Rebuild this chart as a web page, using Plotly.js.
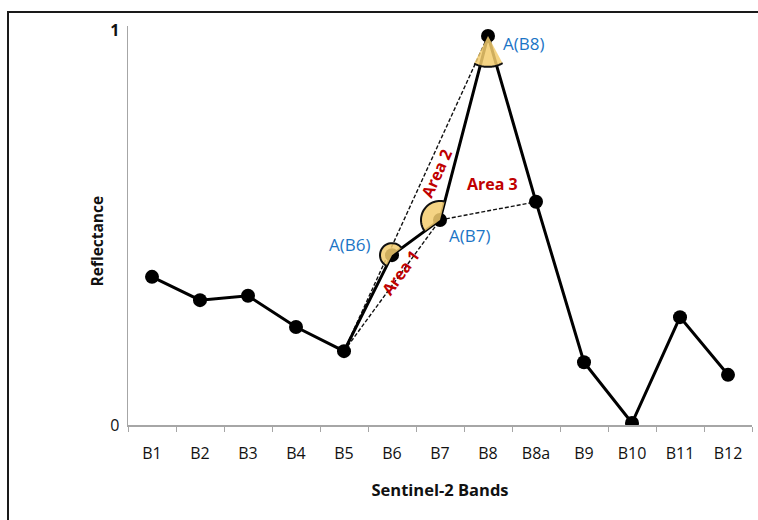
<!DOCTYPE html>
<html>
<head>
<meta charset="utf-8">
<script src="https://cdn.plot.ly/plotly-3.0.1.min.js"></script>
<style>
  html, body { margin: 0; padding: 0; background: #ffffff; }
  #wrap { position: relative; width: 758px; height: 520px; overflow: hidden; }
  #chart { position: absolute; left: 0; top: 0; width: 758px; height: 520px; }
  #frame { position: absolute; left: 7px; top: 11px; width: 900px; height: 700px;
           border-left: 2px solid #1a1a1a; border-top: 2px solid #1a1a1a; pointer-events: none; }
</style>
</head>
<body>
<div id="wrap">
  <div id="chart"></div>
  <div id="frame"></div>
</div>
<script>
// ---- data ----
const bands = ['B1','B2','B3','B4','B5','B6','B7','B8','B8a','B9','B10','B11','B12'];
const reflectance = [0.375, 0.316, 0.327, 0.248, 0.187, 0.430, 0.519, 0.985, 0.565, 0.159, 0.005, 0.273, 0.127];
const yTickVals = [0, 1];
const yTickText = ['0', '<b>1</b>'];
const dashedFrom = ['B5', 'B5', 'B7'];
const dashedTo   = ['B8', 'B7', 'B8a'];
const angleBands  = ['B6', 'B7', 'B8'];
const angleLabels = ['A(B6)', 'A(B7)', 'A(B8)'];
const areaLabels  = ['Area 1', 'Area 2', 'Area 3'];
const xTitle = 'Sentinel-2 Bands';
const yTitle = 'Reflectance';

// ---- layout geometry ----
const W = 758, H = 520;
const M = {l: 128, r: 6, t: 26, b: 95};
const yRange = [0, 1.01];
const plotW = W - M.l - M.r, plotH = H - M.t - M.b;
const xs = plotW / bands.length;            // px per category
const ys = plotH / (yRange[1] - yRange[0]); // px per unit

const idx = b => bands.indexOf(b);
const val = b => reflectance[idx(b)];

const traces = [];
// dashed construction lines
for (let k = 0; k < dashedFrom.length; k++) {
  traces.push({
    type: 'scatter', mode: 'lines',
    x: [dashedFrom[k], dashedTo[k]],
    y: [val(dashedFrom[k]), val(dashedTo[k])],
    line: {color: '#111', width: 1.4, dash: '4px,2px'},
    hoverinfo: 'skip', showlegend: false
  });
}
// main spectrum
traces.push({
  type: 'scatter', mode: 'lines+markers',
  x: bands, y: reflectance,
  line: {color: '#000', width: 3},
  marker: {color: '#000', size: 14},
  showlegend: false
});

// angle wedges
function ang(from, to) {
  const dx = (idx(to) - idx(from)) * xs;
  const dy = (val(to) - val(from)) * ys;
  return Math.atan2(dy, dx);
}
function arcPts(b, a0, a1, r) {
  if (a1 < a0) a1 += 2 * Math.PI;
  const pts = [];
  const n = 30;
  for (let k = 0; k <= n; k++) {
    const a = a0 + (a1 - a0) * k / n;
    pts.push([idx(b) + r * Math.cos(a) / xs, val(b) + r * Math.sin(a) / ys]);
  }
  return pts;
}
const shapes = [];
const wedgeSpec = [
  // band, start toward, end toward, radius px, padding deg
  {b: 'B6', s: 'B7', e: 'B5', r: 12, pad: 0},
  {b: 'B7', s: 'B8', e: 'B6', r: 19, pad: 0},
  {b: 'B8', s: 'B7', e: 'B8a', r: 31, pad: 12}
];
wedgeSpec.forEach(w => {
  const p = w.pad * Math.PI / 180;
  const pts = arcPts(w.b, ang(w.b, w.s) - p, ang(w.b, w.e) + p, w.r);
  const cx = idx(w.b), cy = val(w.b);
  let fill = `M${cx},${cy} ` + pts.map(q => `L${q[0]},${q[1]}`).join(' ') + ' Z';
  shapes.push({type: 'path', xref: 'x', yref: 'y', path: fill,
    fillcolor: 'rgba(243,204,110,0.85)', line: {width: 0}, layer: 'above'});
  let arc = `M${pts[0][0]},${pts[0][1]} ` + pts.slice(1).map(q => `L${q[0]},${q[1]}`).join(' ');
  shapes.push({type: 'path', xref: 'x', yref: 'y', path: arc,
    line: {color: '#111', width: 2}, layer: 'above'});
});

const blue = '#1b75c6', red = '#c00000';
const font = '"Open Sans", Lato, sans-serif';
const annotations = [
  {x: idx('B6'), y: val('B6'), text: angleLabels[0], xshift: -43, yshift: 11},
  {x: idx('B7'), y: val('B7'), text: angleLabels[1], xshift: 29, yshift: -16},
  {x: idx('B8'), y: val('B8'), text: angleLabels[2], xshift: 35, yshift: -8}
].map(a => Object.assign(a, {xref: 'x', yref: 'y', showarrow: false,
  font: {family: font, size: 17, color: blue}}));

// area labels anchored on their construction lines
const mid = (a, b) => [(idx(a) + idx(b)) / 2, (val(a) + val(b)) / 2];
const m1 = mid('B5', 'B7'), m2 = mid('B5', 'B8'), m3 = mid('B7', 'B8a');
const slope = (a, b) => -Math.atan2((val(b) - val(a)) * ys, (idx(b) - idx(a)) * xs) * 180 / Math.PI;
const areaAnn = [
  {x: m1[0], y: m1[1], text: '<b>' + areaLabels[0] + '</b>', textangle: slope('B5', 'B7'), xshift: 8, yshift: 13},
  {x: m2[0], y: m2[1], text: '<b>' + areaLabels[1] + '</b>', textangle: slope('B5', 'B8'), xshift: 20, yshift: 20},
  {x: m3[0], y: m3[1], text: '<b>' + areaLabels[2] + '</b>', xshift: 4, yshift: 27}
].map(a => Object.assign(a, {xref: 'x', yref: 'y', showarrow: false,
  font: {family: font, size: 16, color: red}}));
annotations.push(...areaAnn);

// y-axis title placed as annotation (to match vertical position)
annotations.push({
  xref: 'paper', yref: 'paper', x: 0, y: 0.46, xanchor: 'center', yanchor: 'middle',
  xshift: -31, text: '<b>' + yTitle + '</b>', textangle: -90, showarrow: false,
  font: {family: font, size: 15.5, color: '#111'}
});

const layout = {
  width: W, height: H,
  margin: M,
  paper_bgcolor: 'rgba(0,0,0,0)',
  plot_bgcolor: 'rgba(0,0,0,0)',
  font: {family: font, color: '#111'},
  showlegend: false,
  xaxis: {
    type: 'category',
    categoryorder: 'array', categoryarray: bands,
    range: [-0.5, bands.length - 0.5],
    showgrid: false, zeroline: false,
    showline: true, linecolor: '#a6a6a6', linewidth: 1.5,
    ticks: 'outside', tickson: 'boundaries', ticklen: 5, tickcolor: '#a6a6a6', tickwidth: 1,
    ticklabelstandoff: 13,
    tickfont: {family: font, size: 16, color: '#111'},
    title: {text: '<b>' + xTitle + '</b>', font: {family: font, size: 16.5, color: '#111'}, standoff: 21},
    automargin: false, fixedrange: true
  },
  yaxis: {
    range: yRange,
    tickvals: yTickVals, ticktext: yTickText,
    showgrid: false, zeroline: false,
    showline: true, linecolor: '#a6a6a6', linewidth: 1.5,
    ticks: '',
    ticklabelstandoff: 4,
    tickfont: {family: font, size: 16, color: '#111'},
    automargin: false, fixedrange: true
  },
  shapes: shapes,
  annotations: annotations
};

Plotly.newPlot('chart', traces, layout, {displayModeBar: false, staticPlot: true});
</script>
</body>
</html>
